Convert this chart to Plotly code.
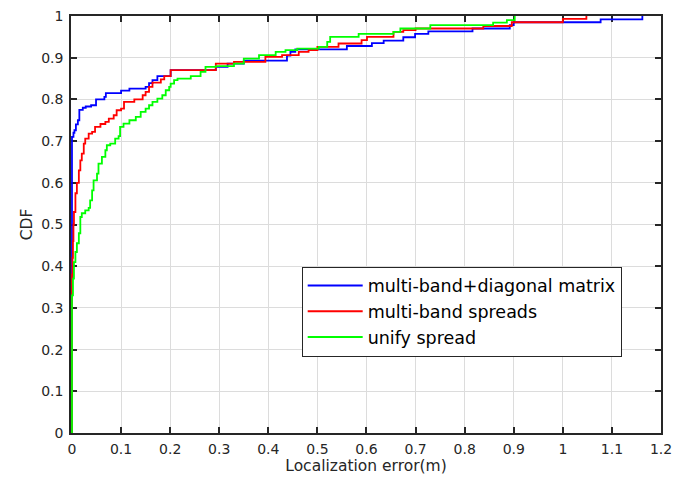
import plotly.graph_objects as go

# ---- data (step CDF points, 'hv' steps) ----
blue_x = [0, 0, 0.003, 0.005, 0.008, 0.012, 0.015, 0.022, 0.028, 0.039, 0.049, 0.066, 0.069,
          0.100, 0.117, 0.150, 0.157, 0.164, 0.174, 0.201, 0.293, 0.317, 0.350, 0.438, 0.445,
          0.455, 0.560, 0.611, 0.635, 0.675, 0.699, 0.726, 0.816, 0.892, 0.900, 1.077, 1.162]
blue_y = [0, 0.71, 0.72, 0.726, 0.74, 0.75, 0.775, 0.78, 0.783, 0.786, 0.80, 0.806, 0.815,
          0.821, 0.826, 0.830, 0.839, 0.846, 0.856, 0.870, 0.878, 0.886, 0.893, 0.905, 0.914,
          0.920, 0.928, 0.935, 0.941, 0.949, 0.957, 0.963, 0.970, 0.978, 0.985, 0.992, 1.0]

red_x = [0, 0, 0.001, 0.002, 0.003, 0.004, 0.007, 0.010, 0.014, 0.017, 0.020, 0.024, 0.027,
         0.034, 0.041, 0.047, 0.058, 0.068, 0.075, 0.085, 0.091, 0.100, 0.106, 0.127, 0.144,
         0.150, 0.157, 0.164, 0.181, 0.188, 0.201, 0.293, 0.330, 0.394, 0.428, 0.462, 0.482,
         0.500, 0.543, 0.590, 0.601, 0.655, 0.675, 0.700, 0.838, 0.896, 1.000, 1.048]
red_y = [0, 0.38, 0.42, 0.46, 0.50, 0.53, 0.575, 0.60, 0.63, 0.654, 0.67, 0.694, 0.706,
         0.718, 0.722, 0.734, 0.741, 0.746, 0.754, 0.762, 0.774, 0.778, 0.794, 0.800, 0.810,
         0.818, 0.830, 0.840, 0.848, 0.856, 0.870, 0.886, 0.890, 0.902, 0.906, 0.914, 0.918,
         0.926, 0.934, 0.942, 0.950, 0.962, 0.966, 0.970, 0.976, 0.985, 0.993, 1.0]

green_x = [0, 0, 0.002, 0.004, 0.007, 0.010, 0.014, 0.017, 0.020, 0.027, 0.034, 0.037, 0.041,
           0.044, 0.051, 0.054, 0.061, 0.068, 0.071, 0.078, 0.088, 0.095, 0.098, 0.105, 0.117,
           0.130, 0.140, 0.150, 0.157, 0.164, 0.174, 0.184, 0.191, 0.198, 0.201, 0.208, 0.215,
           0.242, 0.262, 0.272, 0.293, 0.330, 0.350, 0.381, 0.415, 0.435, 0.459, 0.503, 0.520,
           0.526, 0.584, 0.655, 0.669, 0.730, 0.858, 0.886, 0.902]
green_y = [0, 0.33, 0.37, 0.41, 0.434, 0.455, 0.479, 0.518, 0.527, 0.534, 0.540, 0.558, 0.582,
           0.606, 0.622, 0.646, 0.662, 0.678, 0.690, 0.694, 0.706, 0.712, 0.734, 0.742, 0.750,
           0.758, 0.770, 0.778, 0.786, 0.794, 0.802, 0.810, 0.822, 0.830, 0.838, 0.846, 0.850,
           0.856, 0.866, 0.878, 0.880, 0.886, 0.898, 0.906, 0.914, 0.918, 0.922, 0.926, 0.938,
           0.950, 0.957, 0.962, 0.970, 0.978, 0.984, 0.990, 1.0]

series_names = ["multi-band+diagonal matrix", "multi-band spreads", "unify spread"]
series_colors = ["#0000ff", "#ff0000", "#00ff00"]

x_ticks = [0, 0.1, 0.2, 0.3, 0.4, 0.5, 0.6, 0.7, 0.8, 0.9, 1.0, 1.1, 1.2]
x_tick_labels = ["0", "0.1", "0.2", "0.3", "0.4", "0.5", "0.6", "0.7", "0.8", "0.9", "1", "1.1", "1.2"]
y_ticks = [0, 0.1, 0.2, 0.3, 0.4, 0.5, 0.6, 0.7, 0.8, 0.9, 1.0]
y_tick_labels = ["0", "0.1", "0.2", "0.3", "0.4", "0.5", "0.6", "0.7", "0.8", "0.9", "1"]

FONT = "DejaVu Sans, Arial, sans-serif"
INK = "#262626"

fig = go.Figure()
for i, (xs, ys, name, color) in enumerate(zip([blue_x, red_x, green_x], [blue_y, red_y, green_y],
                                              series_names, series_colors)):
    fig.add_trace(go.Scatter(x=xs, y=ys, mode="lines", name=name, legendgroup=f"g{i}",
                             line=dict(color=color, width=1.8, shape="hv")))

axis_common = dict(
    showline=True, linecolor=INK, linewidth=1.5, mirror="ticks",
    ticks="inside", ticklen=6, tickwidth=1.5, tickcolor=INK,
    showgrid=True, gridcolor="#dcdcdc", gridwidth=1,
    zeroline=False, layer="below traces", automargin=False,
    tickfont=dict(family=FONT, size=14, color=INK),
)

fig.update_xaxes(range=[-0.002, 1.2], tickvals=x_ticks, ticktext=x_tick_labels,
                 ticklabelstandoff=2,
                 title=dict(text="Localization error(m)", font=dict(family=FONT, size=15.5, color=INK),
                            standoff=4),
                 **axis_common)
fig.update_yaxes(range=[0, 1], tickvals=y_ticks, ticktext=y_tick_labels,
                 ticklabelstandoff=3,
                 title=dict(text="CDF", font=dict(family=FONT, size=15.5, color=INK), standoff=5),
                 **axis_common)

fig.update_layout(
    width=673, height=482,
    margin=dict(l=71, r=12, t=16, b=49),
    paper_bgcolor="white", plot_bgcolor="white",
    font=dict(family=FONT, color=INK),
    legend=dict(x=0.391, y=0.399, xanchor="left", yanchor="top",
                bgcolor="white", bordercolor=INK, borderwidth=1,
                font=dict(family=FONT, size=17.5, color="#000000"),
                tracegroupgap=0, itemwidth=55),
    showlegend=True,
)

fig.write_html("out.html", config={"displayModeBar": False},
               post_script="document.body.style.margin='0';document.body.style.padding='0';")
